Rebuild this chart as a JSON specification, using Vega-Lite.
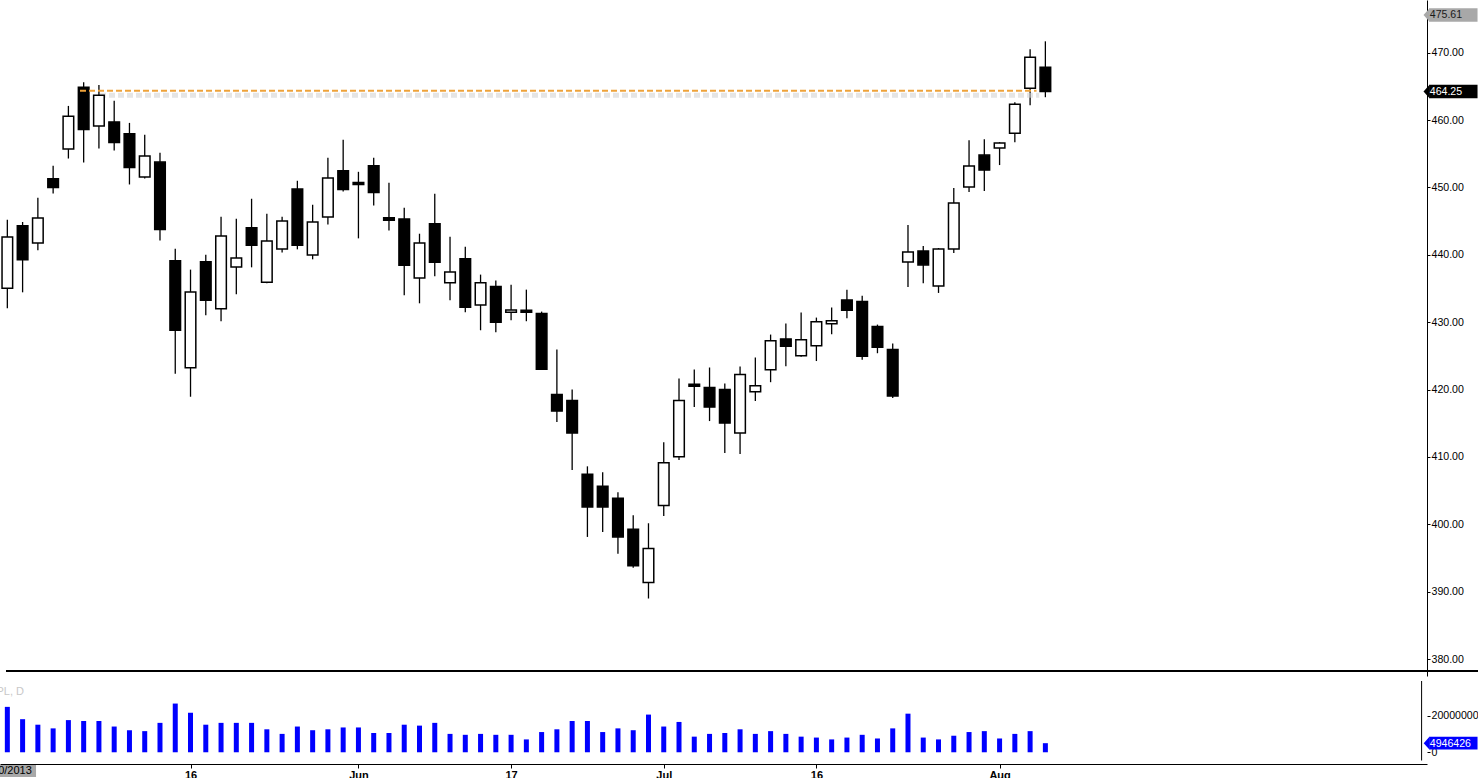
{
  "$schema": "https://vega.github.io/schema/vega-lite/v6.json",
  "padding": 0,
  "background": "white",
  "spacing": 0,
  "config": {
    "view": {"stroke": null},
    "font": "Liberation Sans",
    "axis": {"labelFont": "Liberation Sans", "labelFontSize": 10.6, "labelColor": "#000000", "domainColor": "#000000", "tickColor": "#000000", "grid": false}
  },
  "datasets": {
    "candles": [
      {"i":0,"o":435.04,"h":445.22,"l":432.07,"c":442.65,"v":24700000},
      {"i":1,"o":444.33,"h":444.88,"l":434.44,"c":439.29,"v":18000000},
      {"i":2,"o":441.76,"h":448.48,"l":440.67,"c":445.47,"v":15000000},
      {"i":3,"o":451.29,"h":453.22,"l":449.12,"c":450.00,"v":13000000},
      {"i":4,"o":455.70,"h":462.11,"l":454.30,"c":460.59,"v":17500000},
      {"i":5,"o":464.89,"h":465.63,"l":453.71,"c":458.60,"v":17000000},
      {"i":6,"o":459.12,"h":465.23,"l":455.79,"c":463.70,"v":17000000},
      {"i":7,"o":459.74,"h":462.86,"l":455.49,"c":456.67,"v":14000000},
      {"i":8,"o":457.96,"h":459.59,"l":450.45,"c":452.97,"v":12000000},
      {"i":9,"o":451.55,"h":457.82,"l":451.34,"c":454.66,"v":11500000},
      {"i":10,"o":453.77,"h":455.15,"l":442.15,"c":443.78,"v":16000000},
      {"i":11,"o":439.14,"h":440.92,"l":422.35,"c":428.81,"v":26500000},
      {"i":12,"o":423.24,"h":437.81,"l":418.94,"c":434.50,"v":21500000},
      {"i":13,"o":438.99,"h":440.03,"l":431.04,"c":433.26,"v":15000000},
      {"i":14,"o":431.99,"h":445.66,"l":430.15,"c":442.80,"v":16000000},
      {"i":15,"o":438.21,"h":445.37,"l":434.15,"c":439.54,"v":16000000},
      {"i":16,"o":444.03,"h":448.33,"l":438.15,"c":441.41,"v":16000000},
      {"i":17,"o":435.92,"h":446.11,"l":435.77,"c":442.06,"v":12500000},
      {"i":18,"o":440.88,"h":445.66,"l":440.37,"c":445.03,"v":10000000},
      {"i":19,"o":449.77,"h":451.00,"l":440.82,"c":441.41,"v":14000000},
      {"i":20,"o":439.99,"h":447.44,"l":439.34,"c":444.88,"v":12000000},
      {"i":21,"o":445.62,"h":454.41,"l":444.52,"c":451.40,"v":12500000},
      {"i":22,"o":452.48,"h":457.07,"l":449.41,"c":449.71,"v":13500000},
      {"i":23,"o":450.75,"h":452.33,"l":442.45,"c":450.45,"v":13500000},
      {"i":24,"o":453.22,"h":454.41,"l":447.34,"c":449.27,"v":10500000},
      {"i":25,"o":445.50,"h":450.70,"l":443.63,"c":445.15,"v":10500000},
      {"i":26,"o":445.33,"h":447.00,"l":434.00,"c":438.45,"v":15000000},
      {"i":27,"o":436.58,"h":443.14,"l":432.81,"c":441.76,"v":14500000},
      {"i":28,"o":444.63,"h":449.07,"l":436.82,"c":438.91,"v":16000000},
      {"i":29,"o":435.85,"h":442.70,"l":433.26,"c":437.47,"v":10000000},
      {"i":30,"o":439.44,"h":441.22,"l":431.48,"c":432.22,"v":9500000},
      {"i":31,"o":432.57,"h":437.07,"l":428.81,"c":435.85,"v":10000000},
      {"i":32,"o":435.29,"h":436.18,"l":428.51,"c":430.00,"v":9500000},
      {"i":33,"o":431.48,"h":435.58,"l":430.29,"c":431.83,"v":9500000},
      {"i":34,"o":431.78,"h":434.84,"l":430.15,"c":431.48,"v":7000000},
      {"i":35,"o":431.29,"h":431.58,"l":423.03,"c":423.03,"v":11000000},
      {"i":36,"o":419.28,"h":425.95,"l":415.18,"c":416.81,"v":12500000},
      {"i":37,"o":418.39,"h":420.02,"l":408.06,"c":413.55,"v":17000000},
      {"i":38,"o":407.42,"h":408.61,"l":398.13,"c":402.58,"v":17000000},
      {"i":39,"o":405.65,"h":407.72,"l":398.87,"c":402.58,"v":11000000},
      {"i":40,"o":403.87,"h":404.76,"l":395.64,"c":398.13,"v":13000000},
      {"i":41,"o":399.27,"h":401.35,"l":393.54,"c":393.84,"v":12000000},
      {"i":42,"o":391.36,"h":400.16,"l":388.99,"c":396.41,"v":20500000},
      {"i":43,"o":402.79,"h":412.17,"l":401.25,"c":409.16,"v":14000000},
      {"i":44,"o":410.05,"h":421.65,"l":409.55,"c":418.39,"v":16500000},
      {"i":45,"o":420.80,"h":422.98,"l":417.40,"c":420.50,"v":8500000},
      {"i":46,"o":420.32,"h":423.28,"l":415.33,"c":417.40,"v":10000000},
      {"i":47,"o":420.02,"h":420.91,"l":410.58,"c":415.03,"v":10500000},
      {"i":48,"o":413.55,"h":423.43,"l":410.43,"c":422.24,"v":12500000},
      {"i":49,"o":419.68,"h":424.76,"l":418.32,"c":420.57,"v":10000000},
      {"i":50,"o":422.94,"h":428.17,"l":421.10,"c":427.24,"v":11500000},
      {"i":51,"o":427.53,"h":429.80,"l":423.48,"c":426.44,"v":10000000},
      {"i":52,"o":425.02,"h":431.44,"l":424.87,"c":427.39,"v":8500000},
      {"i":53,"o":426.50,"h":430.69,"l":424.24,"c":430.06,"v":8000000},
      {"i":54,"o":429.76,"h":432.18,"l":428.22,"c":430.21,"v":7000000},
      {"i":55,"o":433.31,"h":434.84,"l":430.59,"c":431.77,"v":8000000},
      {"i":56,"o":433.06,"h":433.95,"l":424.42,"c":424.96,"v":9500000},
      {"i":57,"o":429.36,"h":429.65,"l":425.40,"c":426.29,"v":7500000},
      {"i":58,"o":425.95,"h":426.84,"l":418.74,"c":419.04,"v":13000000},
      {"i":59,"o":438.95,"h":444.43,"l":435.24,"c":440.43,"v":21000000},
      {"i":60,"o":440.58,"h":441.32,"l":435.78,"c":438.51,"v":8000000},
      {"i":61,"o":435.39,"h":441.02,"l":434.35,"c":440.87,"v":7000000},
      {"i":62,"o":440.87,"h":449.92,"l":440.27,"c":447.69,"v":9000000},
      {"i":63,"o":450.06,"h":457.03,"l":449.32,"c":453.18,"v":11000000},
      {"i":64,"o":454.81,"h":457.18,"l":449.47,"c":452.58,"v":11500000},
      {"i":65,"o":455.85,"h":456.73,"l":453.33,"c":456.59,"v":7500000},
      {"i":66,"o":458.07,"h":462.66,"l":456.73,"c":462.37,"v":10000000},
      {"i":67,"o":464.74,"h":470.52,"l":462.22,"c":469.33,"v":11500000},
      {"i":68,"o":467.85,"h":471.70,"l":463.40,"c":464.25,"v":4946426}
    ]
  },
  "vconcat": [
    {
      "width": 1427,
      "height": 676,
      "layer": [
        {
          "data": {"name": "candles"},
          "mark": {"type": "rule", "color": "#000000", "strokeWidth": 1.3},
          "encoding": {
            "x": {"field": "i", "type": "quantitative", "scale": {"domain": [-0.153, 92.672], "nice": false, "zero": false}, "axis": null},
            "y": {"field": "l", "type": "quantitative", "scale": {"domain": [378.23, 477.09], "nice": false, "zero": false},
                  "axis": {"orient": "right", "values": [380,385,390,395,400,405,410,415,420,425,430,435,440,445,450,455,460,465,470,475], "format": ".2f", "tickSize": 3, "labelPadding": 1, "domainWidth": 1, "title": null}},
            "y2": {"field": "h"}
          }
        },
        {
          "data": {"values": [{"start": 6.07, "end": 67.6, "price": 463.7}]},
          "mark": {"type": "rule", "color": "#d4d4d4", "strokeWidth": 5, "opacity": 0.6, "strokeDash": [6, 3]},
          "encoding": {
            "x": {"field": "start", "type": "quantitative", "axis": null},
            "x2": {"field": "end"},
            "y": {"field": "price", "type": "quantitative"}
          }
        },
        {
          "data": {"name": "candles"},
          "mark": {"type": "bar", "size": 10.6, "stroke": "#000000", "strokeWidth": 1.5},
          "encoding": {
            "x": {"field": "i", "type": "quantitative", "axis": null},
            "y": {"field": "o", "type": "quantitative"},
            "y2": {"field": "c"},
            "fill": {"condition": {"test": "datum.c >= datum.o", "value": "#ffffff"}, "value": "#000000"}
          }
        },
        {
          "data": {"values": [{"start": 4.76, "end": 67.42, "price": 464.35}]},
          "mark": {"type": "rule", "color": "#eea23a", "strokeWidth": 2, "strokeDash": [6, 3]},
          "encoding": {
            "x": {"field": "start", "type": "quantitative", "axis": null},
            "x2": {"field": "end"},
            "y": {"field": "price", "type": "quantitative"}
          }
        },
        {
          "data": {"values": [{"from": -0.088, "to": 96.35, "price": 378.23}]},
          "mark": {"type": "rule", "color": "#000000", "strokeWidth": 2},
          "encoding": {
            "x": {"field": "from", "type": "quantitative", "axis": null},
            "x2": {"field": "to"},
            "y": {"field": "price", "type": "quantitative"}
          }
        },
        {
          "data": {"values": [{"t": "475.61", "p": 475.61}, {"t": "464.25", "p": 464.25}]},
          "layer": [
            {
              "mark": {"type": "bar", "size": 13.5},
              "encoding": {
                "x": {"datum": 93.14, "type": "quantitative", "axis": null},
                "x2": {"datum": 96.31},
                "y": {"field": "p", "type": "quantitative"},
                "color": {"condition": {"test": "datum.t == '464.25'", "value": "#000000"}, "value": "#a8a8a8"}
              }
            },
            {
              "mark": {"type": "point", "shape": "M0.45,-1L-0.45,0L0.45,1Z", "size": 182, "filled": true, "opacity": 1, "strokeWidth": 0},
              "encoding": {
                "x": {"datum": 92.97, "type": "quantitative", "axis": null},
                "y": {"field": "p", "type": "quantitative"},
                "color": {"condition": {"test": "datum.t == '464.25'", "value": "#000000"}, "value": "#a8a8a8"}
              }
            },
            {
              "mark": {"type": "text", "align": "left", "baseline": "middle", "fontSize": 10.6, "font": "Liberation Sans", "dy": 0.5},
              "encoding": {
                "x": {"datum": 93.18, "type": "quantitative", "axis": null},
                "y": {"field": "p", "type": "quantitative"},
                "text": {"field": "t"},
                "color": {"condition": {"test": "datum.t == '464.25'", "value": "#ffffff"}, "value": "#1a1a1a"}
              }
            }
          ]
        }
      ]
    },
    {
      "width": 1427,
      "height": 106,
      "layer": [
        {
          "data": {"name": "candles"},
          "mark": {"type": "bar", "size": 5, "color": "#0000ff"},
          "encoding": {
            "x": {"field": "i", "type": "quantitative", "scale": {"domain": [-0.153, 92.672], "nice": false, "zero": false},
                  "axis": {"orient": "bottom", "offset": -18, "values": [1, 12, 23, 33, 43, 53, 65],
                           "labelExpr": "datum.value == 12 ? '16' : datum.value == 23 ? 'Jun' : datum.value == 33 ? '17' : datum.value == 43 ? 'Jul' : datum.value == 53 ? '16' : datum.value == 65 ? 'Aug' : ''",
                           "tickSize": 4, "labelPadding": 1, "labelFontWeight": "bold", "labelFontSize": 11, "domainWidth": 1, "labelFlush": false, "labelOverlap": false, "title": null}},
            "y": {"field": "v", "type": "quantitative", "scale": {"domain": [-13450000, 38770000], "nice": false, "zero": false},
                  "axis": {"orient": "right", "values": [0, 20000000], "format": "d", "tickSize": 3, "labelPadding": 1, "domain": false, "title": null}}
          }
        },
        {
          "data": {"values": [{"at": 92.646, "lo": -4480000, "hi": 38770000}]},
          "mark": {"type": "rule", "color": "#000000", "strokeWidth": 1},
          "encoding": {
            "x": {"field": "at", "type": "quantitative"},
            "y": {"field": "lo", "type": "quantitative"},
            "y2": {"field": "hi"}
          }
        },
        {
          "data": {"values": [{"v": 4946426}]},
          "layer": [
            {
              "mark": {"type": "bar", "size": 12.7, "color": "#0000ff"},
              "encoding": {
                "x": {"datum": 93.14, "type": "quantitative"},
                "x2": {"datum": 96.31},
                "y": {"field": "v", "type": "quantitative"}
              }
            },
            {
              "mark": {"type": "point", "shape": "M0.45,-1L-0.45,0L0.45,1Z", "size": 161, "filled": true, "opacity": 1, "strokeWidth": 0, "color": "#0000ff"},
              "encoding": {
                "x": {"datum": 92.97, "type": "quantitative"},
                "y": {"field": "v", "type": "quantitative"}
              }
            },
            {
              "mark": {"type": "text", "align": "left", "baseline": "middle", "fontSize": 10.6, "font": "Liberation Sans", "color": "#ffffff", "dy": 0.5},
              "encoding": {
                "x": {"datum": 93.18, "type": "quantitative"},
                "y": {"field": "v", "type": "quantitative"},
                "text": {"field": "v", "format": "d"}
              }
            }
          ]
        },
        {
          "data": {"values": [{"i": 0, "t": "4/30/2013"}]},
          "layer": [
            {
              "mark": {"type": "bar", "clip": true, "color": "#a8a8a8"},
              "encoding": {
                "x": {"datum": -3, "type": "quantitative"},
                "x2": {"datum": 1.88},
                "y": {"datum": -6900000, "type": "quantitative"},
                "y2": {"datum": -13450000}
              }
            },
            {
              "mark": {"type": "text", "clip": true, "align": "center", "baseline": "middle", "fontSize": 11, "font": "Liberation Sans", "color": "#000000"},
              "encoding": {
                "x": {"field": "i", "type": "quantitative"},
                "y": {"datum": -10200000, "type": "quantitative"},
                "text": {"field": "t"}
              }
            }
          ]
        },
        {
          "data": {"values": [{"t": "AAPL, D"}]},
          "mark": {"type": "text", "clip": true, "align": "right", "baseline": "middle", "fontSize": 11, "font": "Liberation Sans", "color": "#c8c8c8"},
          "encoding": {
            "x": {"datum": 1.09, "type": "quantitative"},
            "y": {"datum": 33000000, "type": "quantitative"},
            "text": {"field": "t"}
          }
        }
      ]
    }
  ]
}
